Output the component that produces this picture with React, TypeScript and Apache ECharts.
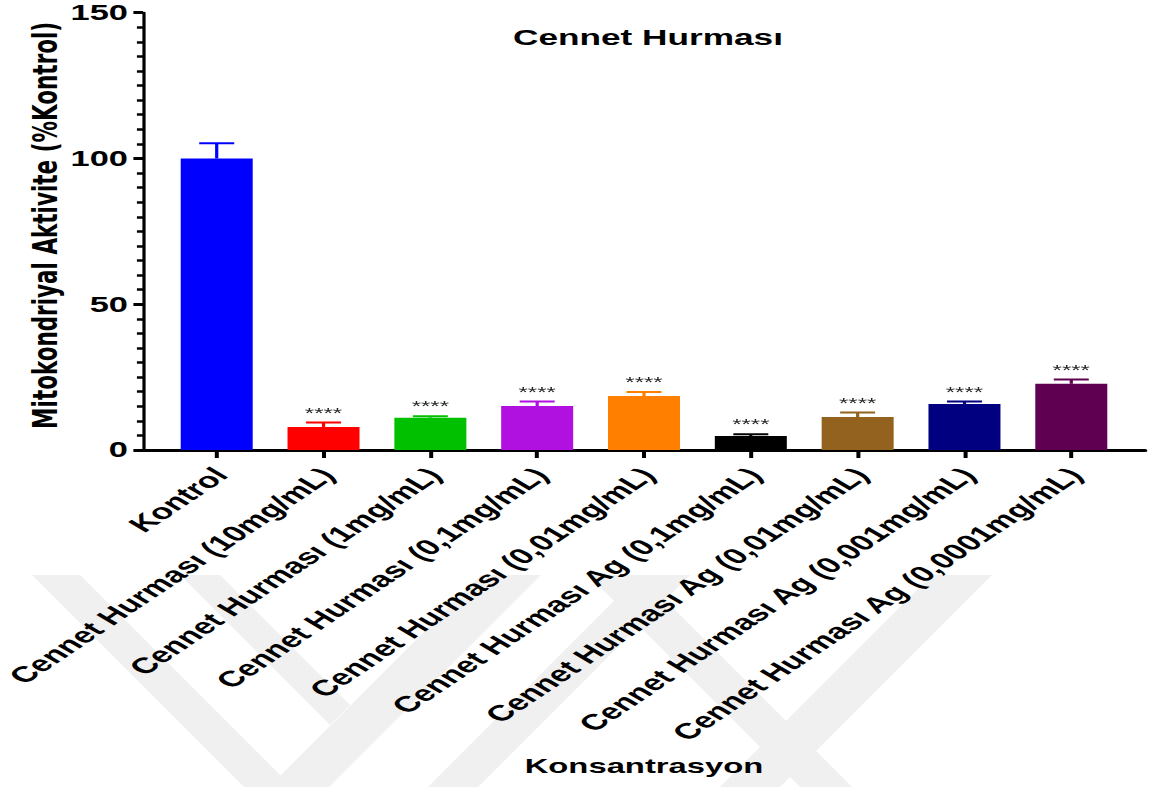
import React, { useEffect, useRef } from 'react';
import * as echarts from 'echarts';

// ---- data ----
const categories = [
  'Kontrol',
  'Cennet Hurması (10mg/mL)',
  'Cennet Hurması (1mg/mL)',
  'Cennet Hurması (0,1mg/mL)',
  'Cennet Hurması (0,01mg/mL)',
  'Cennet Hurması Ag (0,1mg/mL)',
  'Cennet Hurması Ag (0,01mg/mL)',
  'Cennet Hurması Ag (0,001mg/mL)',
  'Cennet Hurması Ag (0,0001mg/mL)',
];
const means = [100, 7.9, 11.1, 15.1, 18.5, 4.8, 11.3, 15.8, 22.7];
const errors = [5.2, 1.5, 0.5, 1.5, 1.4, 0.6, 1.6, 0.8, 1.5];
const significance = ['', '****', '****', '****', '****', '****', '****', '****', '****'];
const barColors = ['#0000ff', '#ff0000', '#00c000', '#b010e0', '#ff8000', '#000000', '#94621f', '#000080', '#600050'];
const yMin = 0;
const yMax = 150;
const yStep = 50;

// ---- layout ----
const WIDTH = 1150;
const HEIGHT = 787;
const STRETCH = 1.6; // the figure is drawn narrow and widened horizontally
const INNER_W = WIDTH / STRETCH;
const sx = (x: number) => x / STRETCH;
// rotated category labels end a touch to the right of their tick
const LABEL_SHIFT = 0.035;

const FONT = "'Liberation Sans', Arial, sans-serif";

// faint background emblem stripes, page coordinates
const emblem: number[][][] = [
  [[32, 575], [80, 575], [292, 787], [244, 787]],
  [[180, 575], [220, 575], [350, 705], [330, 725]],
  [[481, 575], [541, 575], [329, 787], [269, 787]],
  [[640, 575], [690, 575], [478, 787], [428, 787]],
  [[932, 575], [992, 575], [780, 787], [720, 787]],
  [[588, 575], [640, 575], [852, 787], [800, 787]],
];

export default function App() {
  const ref = useRef<HTMLDivElement>(null);

  useEffect(() => {
    if (!ref.current) return;
    const chart = echarts.init(ref.current, undefined, {
      renderer: 'svg',
      width: INNER_W,
      height: HEIGHT,
    });
    const idx = categories.map((_, i) => i);

    chart.setOption({
      animation: false,
      backgroundColor: '#ffffff',
      title: {
        text: 'Cennet Hurması',
        left: sx(640),
        textAlign: 'center',
        top: 21,
        textStyle: { fontFamily: FONT, fontWeight: 'bold', fontSize: 22, color: '#000' },
      },
      graphic: emblem.map((pts) => ({
        type: 'polygon',
        silent: true,
        z: -10,
        shape: { points: pts.map(([x, y]) => [sx(x), y]) },
        style: { fill: '#f0f0f0' },
      })),
      grid: {
        left: sx(143),
        top: 12.7,
        width: sx(1145 - 143),
        height: 437.3,
        outerBoundsMode: 'none',
        containLabel: false,
      },
      xAxis: {
        type: 'value',
        min: -0.69,
        max: categories.length - 1 + 0.69,
        splitLine: { show: false },
        axisLine: { show: true, onZero: false, lineStyle: { color: '#000', width: 3 } },
        axisTick: {
          show: true,
          customValues: idx,
          length: 8,
          lineStyle: { color: '#000', width: 2.5 },
        },
        axisLabel: {
          customValues: idx.map((i) => i + LABEL_SHIFT),
          formatter: (v: number) => categories[Math.round(v - LABEL_SHIFT)] ?? '',
          rotate: 47,
          margin: 21,
          fontFamily: FONT,
          fontWeight: 'bold',
          fontSize: 22,
          color: '#000',
        },
        name: 'Konsantrasyon',
        nameLocation: 'middle',
        nameGap: 305,
        nameMoveOverlap: false,
        nameTextStyle: { fontFamily: FONT, fontWeight: 'bold', fontSize: 20.5, color: '#000' },
      },
      yAxis: {
        type: 'value',
        min: yMin,
        max: yMax,
        interval: yStep,
        splitLine: { show: false },
        axisLine: { show: true, onZero: false, lineStyle: { color: '#000', width: 2 } },
        axisTick: { show: true, length: 6, lineStyle: { color: '#000', width: 3 } },
        minorTick: { show: true, splitNumber: 10, length: 3.8, lineStyle: { color: '#000', width: 2.5 } },
        axisLabel: {
          margin: 9.4,
          fontFamily: FONT,
          fontWeight: 'bold',
          fontSize: 21.5,
          color: '#000',
        },
        name: 'Mitokondriyal Aktivite (%Kontrol)',
        nameLocation: 'middle',
        nameGap: 50,
        nameMoveOverlap: false,
        nameTextStyle: {
          fontFamily: "'DejaVu Sans', sans-serif",
          fontWeight: 'bold',
          fontSize: 21.5,
          color: '#000',
          padding: [0, 0, 0, 12],
        },
      },
      series: [
        {
          type: 'bar',
          barWidth: sx(72),
          z: 2,
          data: means.map((m, i) => ({ value: [i, m], itemStyle: { color: barColors[i] } })),
        },
        {
          type: 'custom',
          z: 3,
          data: means.map((m, i) => [i, m, errors[i]]),
          renderItem: (params: any, api: any) => {
            const i = params.dataIndex;
            const x = api.value(0);
            const m = api.value(1);
            const e = api.value(2);
            const base = api.coord([x, m]);
            const tip = api.coord([x, m + e]);
            const half = sx(17.5);
            const color = barColors[i];
            return {
              type: 'group',
              children: [
                {
                  type: 'line',
                  shape: { x1: base[0], y1: base[1], x2: tip[0], y2: tip[1] },
                  style: { stroke: color, lineWidth: 2 },
                },
                {
                  type: 'line',
                  shape: { x1: tip[0] - half, y1: tip[1], x2: tip[0] + half, y2: tip[1] },
                  style: { stroke: color, lineWidth: 2 },
                },
                {
                  type: 'text',
                  style: {
                    text: significance[i],
                    x: tip[0],
                    y: tip[1] - 10,
                    align: 'center',
                    verticalAlign: 'middle',
                    textAlign: 'center',
                    textVerticalAlign: 'middle',
                    fontFamily: FONT,
                    fontSize: 15,
                    fill: '#222',
                  },
                },
              ],
            };
          },
        },
      ],
    });

    return () => chart.dispose();
  }, []);

  return (
    <div
      style={{
        position: 'absolute',
        left: 0,
        top: 0,
        width: WIDTH,
        height: HEIGHT,
        overflow: 'hidden',
        background: '#ffffff',
      }}
    >
      <div
        ref={ref}
        style={{
          width: INNER_W,
          height: HEIGHT,
          transform: `scaleX(${STRETCH})`,
          transformOrigin: '0 0',
        }}
      />
    </div>
  );
}
